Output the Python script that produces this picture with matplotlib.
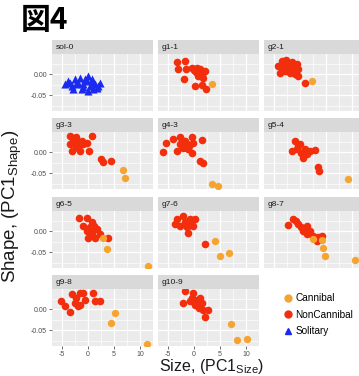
import numpy as np
import matplotlib
matplotlib.use("Agg")
from matplotlib import pyplot as plt
from matplotlib.lines import Line2D
from matplotlib.ticker import MultipleLocator

plt.rcParams['font.family'] = ['Liberation Sans', 'DejaVu Sans']
plt.rcParams['mathtext.fontset'] = 'custom'
plt.rcParams['mathtext.rm'] = 'Liberation Sans'

# panel names, row by row (third column is cut off at the right edge)
panel_names = ["sol-0", "g1-1", "g2-1",
               "g3-3", "g4-3", "g5-4",
               "g6-5", "g7-6", "g8-7",
               "g9-8", "g10-9"]

# Solitary (blue triangles)
sol0_x = [-4.4, -3.8, -3.1, -2.5, -1.9, -1.5, -0.9, -0.25, 0.06, 0.7, 0.4, 1.35, 2.0, 2.3,
          -2.8, -1.2, 0.06, 1.0, -2.2, -0.6, -3.4, -1.0, 0.9, 1.8]
sol0_y = [-0.024, -0.016, -0.028, -0.012, -0.020, -0.008, -0.024, -0.016, -0.004, -0.012, -0.028,
          -0.024, -0.028, -0.020, -0.036, -0.036, -0.040, -0.036, -0.024, -0.012, -0.020, -0.030,
          -0.018, -0.032]

# NonCannibal (red) / Cannibal (orange)
g1_1_non_x = [-3.3, -1.7, -3.0, -1.5, -1.9, 0.0, 0.5, 1.15, 0.8, 1.5, 1.8, 0.2, 1.5, 2.4, 0.5, -0.4, 2.1,
              1.0, 0.3]
g1_1_non_y = [0.029, 0.032, 0.012, 0.013, -0.012, 0.010, 0.016, 0.012, -0.004, 0.0, -0.008, -0.028,
              -0.026, -0.034, 0.004, 0.016, 0.007, 0.004, 0.008]
g1_1_can_x = [3.4]
g1_1_can_y = [-0.024]

g2_1_non_x = [-4.2, -3.5, -2.6, -1.6, -0.6, -0.3, -3.8, -2.9, -1.9, -1.0, -0.3, -2.25, -1.3, -3.2, 1.0,
              -2.0, -2.8]
g2_1_non_y = [0.020, 0.032, 0.034, 0.028, 0.024, 0.012, 0.004, 0.008, 0.004, 0.0, -0.004, 0.020,
              0.016, 0.016, -0.020, 0.010, 0.026]
g2_1_can_x = [2.25]
g2_1_can_y = [-0.016]

g3_3_non_x = [-3.5, -2.2, -1.2, 0.7, -3.5, -2.2, -0.9, -0.1, -3.1, -1.5, 0.25, 2.6, 2.9, 4.4, -2.5, -1.5,
              -2.8, -1.9]
g3_3_non_y = [0.039, 0.035, 0.027, 0.039, 0.019, 0.015, 0.019, 0.021, 0.003, 0.003, 0.003, -0.015,
              -0.023, -0.021, 0.027, 0.023, 0.031, 0.010]
g3_3_can_x = [6.8, 7.1]
g3_3_can_y = [-0.042, -0.060]

g4_3_non_x = [-4.0, -2.7, -1.7, -0.45, -0.1, 1.5, -3.3, -2.1, -1.1, -0.45, -1.4, -2.7, 1.15, 1.8,
              -5.9, -5.3, -0.9, -2.0]
g4_3_non_y = [0.031, 0.035, 0.027, 0.035, 0.023, 0.029, 0.003, 0.011, 0.007, -0.001, 0.019, 0.019,
              -0.021, -0.026, 0.0, 0.021, 0.014, 0.026]
g4_3_can_x = [3.4, 4.7]
g4_3_can_y = [-0.074, -0.080]

g5_4_non_x = [-1.0, -1.6, -0.3, 0.3, 1.0, 1.9, 2.9, 0.6, 3.5, 3.65, -0.6, 1.3, 0.0]
g5_4_non_y = [0.027, 0.003, 0.015, -0.001, 0.007, 0.003, 0.005, -0.013, -0.036, -0.044, 0.007, -0.005,
              0.020]
g5_4_can_x = [9.3]
g5_4_can_y = [-0.063]

g6_5_non_x = [-1.7, -0.25, 0.7, -0.25, 0.7, 1.7, 2.3, 0.06, 1.35, 3.9, 0.4, -0.9, 1.2]
g6_5_non_y = [0.031, 0.031, 0.021, 0.001, -0.003, 0.005, -0.007, -0.015, -0.015, -0.015, 0.009, 0.013,
              0.012]
g6_5_can_x = [2.9, 3.6, 11.6]
g6_5_can_y = [-0.015, -0.042, -0.082]

g7_6_non_x = [-3.3, -2.1, -0.8, -0.1, -2.7, -1.4, -3.7, 0.2, -1.1, 2.1, -1.8, -0.5]
g7_6_non_y = [0.029, 0.036, 0.029, 0.013, 0.013, 0.009, 0.017, 0.029, -0.003, -0.029, 0.022, 0.020]
g7_6_can_x = [4.0, 5.1, 6.8]
g7_6_can_y = [-0.023, -0.059, -0.052]

g8_7_non_x = [-2.2, -1.3, -0.3, 0.3, 1.3, 1.9, 1.3, 2.6, 3.5, 4.2, 3.2, 0.6, -0.8]
g8_7_non_y = [0.014, 0.029, 0.017, 0.009, 0.013, 0.001, -0.007, -0.011, -0.013, -0.011, -0.023, 0.001,
              0.024]
g8_7_can_x = [4.2, 4.5, 4.8, 10.6, 2.6]
g8_7_can_y = [-0.021, -0.039, -0.059, -0.067, -0.019]

g9_8_non_x = [-5.1, -4.4, -3.5, -3.1, -2.2, -2.5, -1.5, -0.9, -1.5, -0.6, 1.0, 1.35, 2.3, -1.9]
g9_8_non_y = [0.019, 0.007, -0.006, 0.035, 0.027, 0.015, 0.039, 0.039, 0.010, 0.023, 0.039, 0.019,
              0.019, 0.007]
g9_8_can_x = [5.2, 4.4, 11.3]
g9_8_can_y = [-0.010, -0.032, -0.082]

g10_9_non_x = [-1.7, -0.1, 1.15, -2.1, -0.8, 0.2, 0.8, 1.5, 1.8, 2.75, 2.1, -0.45, 0.5, 1.0]
g10_9_non_y = [0.043, 0.039, 0.027, 0.015, 0.019, 0.010, 0.007, 0.015, -0.002, -0.002, -0.018,
               0.027, 0.023, 0.003]
g10_9_can_x = [7.05, 8.2, 10.25]
g10_9_can_y = [-0.034, -0.072, -0.071]

non_x = [None, g1_1_non_x, g2_1_non_x, g3_3_non_x, g4_3_non_x, g5_4_non_x, g6_5_non_x,
         g7_6_non_x, g8_7_non_x, g9_8_non_x, g10_9_non_x]
non_y = [None, g1_1_non_y, g2_1_non_y, g3_3_non_y, g4_3_non_y, g5_4_non_y, g6_5_non_y,
         g7_6_non_y, g8_7_non_y, g9_8_non_y, g10_9_non_y]
can_x = [None, g1_1_can_x, g2_1_can_x, g3_3_can_x, g4_3_can_x, g5_4_can_x, g6_5_can_x,
         g7_6_can_x, g8_7_can_x, g9_8_can_x, g10_9_can_x]
can_y = [None, g1_1_can_y, g2_1_can_y, g3_3_can_y, g4_3_can_y, g5_4_can_y, g6_5_can_y,
         g7_6_can_y, g8_7_can_y, g9_8_can_y, g10_9_can_y]

x_ticks = [-5, 0, 5, 10]
y_ticks = [-0.05, 0.00]
y_ticklabels = ["-0.05", "0.00"]

c_can = '#F6A431'
c_non = '#F22E0C'
c_sol = '#1A2BEF'

W, H = 359, 376
fig = plt.figure(figsize=(W / 100, H / 100), dpi=100)

col_left = [52, 158, 264]
pan_w = 101
row_top = [54, 132, 211, 289]
pan_h = 57
strip_h = 14

for i, name in enumerate(panel_names):
    r, c = divmod(i, 3)
    l = col_left[c]
    t = row_top[r]
    ax = fig.add_axes([l / W, 1 - (t + pan_h) / H, pan_w / W, pan_h / H])
    st = fig.add_axes([l / W, 1 - t / H, pan_w / W, strip_h / H])
    st.set_facecolor('#D9D9D9')
    st.set_xticks([]); st.set_yticks([])
    for s in st.spines.values():
        s.set_visible(False)
    st.text(0.04, 0.45, name, transform=st.transAxes, ha='left', va='center',
            fontsize=6, color='#1A1A1A')

    ax.set_facecolor('#EBEBEB')
    ax.set_xlim(-6.9, 12.5)
    ax.set_ylim(-0.087, 0.048)
    ax.set_xticks(x_ticks)
    ax.set_yticks(y_ticks)
    ax.xaxis.set_minor_locator(MultipleLocator(2.5))
    ax.yaxis.set_minor_locator(MultipleLocator(0.025))
    ax.grid(which='major', color='white', lw=0.9)
    ax.grid(which='minor', color='white', lw=0.45)
    ax.set_axisbelow(True)
    for s in ax.spines.values():
        s.set_visible(False)
    ax.tick_params(which='minor', length=0)
    ax.tick_params(which='major', length=2, width=0.5, color='#333333', labelsize=5,
                   labelcolor='#4D4D4D', pad=1.5)
    if c == 0:
        ax.set_yticklabels(y_ticklabels)
    else:
        ax.set_yticklabels([])
        ax.tick_params(axis='y', length=0)
    if r == 3:
        ax.set_xticklabels([str(v) for v in x_ticks])
    else:
        ax.set_xticklabels([])
        ax.tick_params(axis='x', length=0)

    if i == 0:
        ax.scatter(sol0_x, sol0_y, marker='^', s=34, color=c_sol, lw=0)
    else:
        ax.scatter(non_x[i], non_y[i], s=30, color=c_non, lw=0)
        ax.scatter(can_x[i], can_y[i], s=28, color=c_can, lw=0)

fig.text(21 / W, 1 - 20 / H, '図4', fontsize=21.5, fontweight='bold', va='center', ha='left',
         family=['Noto Sans CJK JP', 'DejaVu Sans'])
fig.text(212 / W, 1 - 366 / H, r'Size, (PC1$_{\mathrm{Size}}$)', fontsize=11.5, ha='center',
         va='center', color='#1A1A1A')
fig.text(12 / W, 1 - 206 / H, r'Shape, (PC1$_{\mathrm{Shape}}$)', fontsize=13.5, ha='center',
         va='center', rotation=90, color='#1A1A1A')

handles = [Line2D([], [], marker='o', ls='', color=c_can, markersize=5),
           Line2D([], [], marker='o', ls='', color=c_non, markersize=5),
           Line2D([], [], marker='^', ls='', color=c_sol, markersize=5)]
fig.legend(handles, ['Cannibal', 'NonCannibal', 'Solitary'], loc='upper left',
           bbox_to_anchor=(274 / W, 1 - 285 / H), frameon=False, fontsize=7.2,
           handletextpad=0.15, labelspacing=0.65, handlelength=1.2, borderpad=0.3)

fig.savefig('out.png', dpi=100)
